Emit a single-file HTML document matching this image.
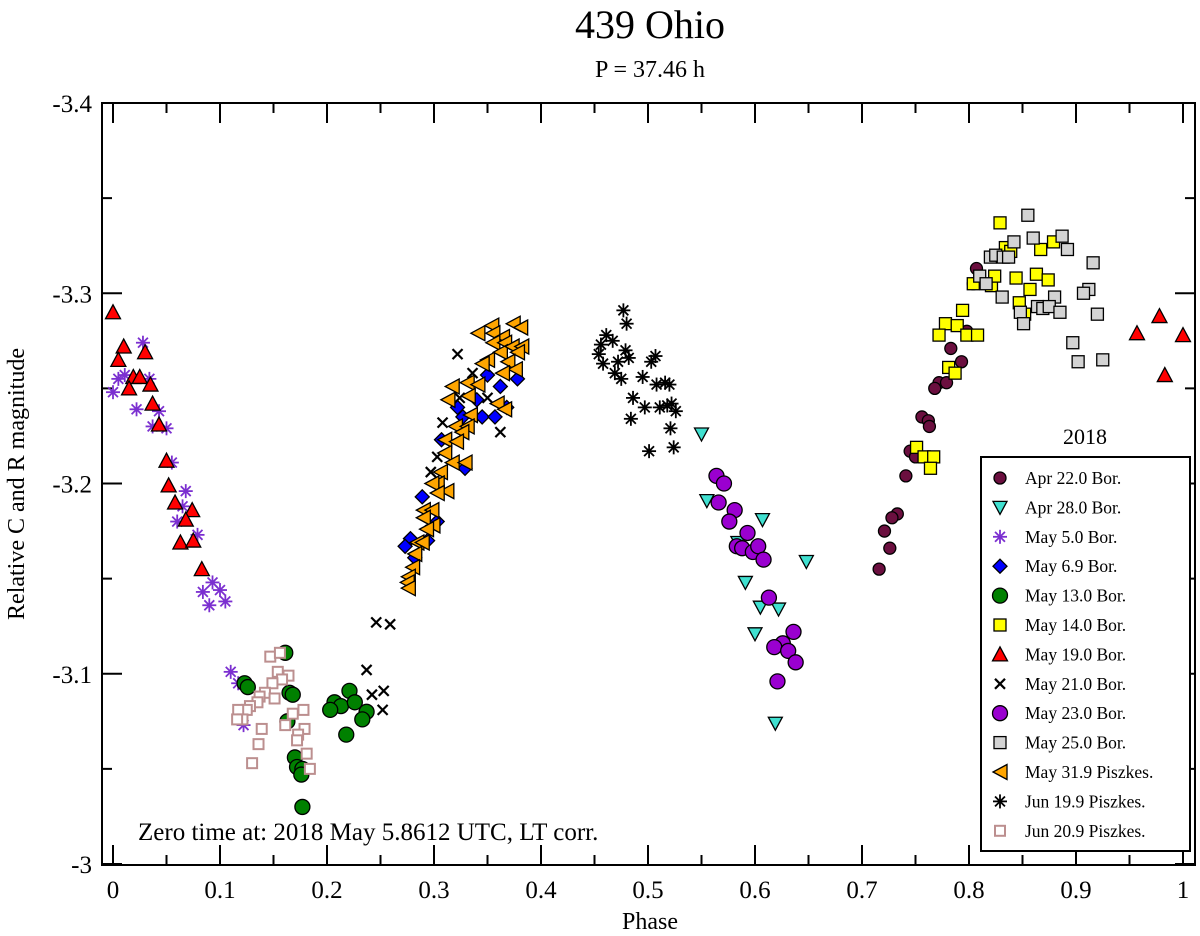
<!DOCTYPE html>
<html><head><meta charset="utf-8"><style>
body{margin:0;background:#fff}
svg{display:block;font-family:"Liberation Serif",serif}
</style></head><body>
<svg id="chart" width="1200" height="936" viewBox="0 0 1200 936" xmlns="http://www.w3.org/2000/svg">
<text x="650" y="38" font-size="40" text-anchor="middle">439 Ohio</text>
<text x="650" y="77" font-size="24" text-anchor="middle">P = 37.46 h</text>
<text transform="translate(24,484) rotate(-90)" font-size="24" text-anchor="middle">Relative C and R magnitude</text>
<text x="650" y="929" font-size="24" text-anchor="middle">Phase</text>
<text x="138" y="840" font-size="25">Zero time at: 2018 May 5.8612 UTC, LT corr.</text>
<g id="axes"></g>
<g id="marks"></g>
<g id="legend"></g>
</svg>
<script>
const xTicks=[0,0.1,0.2,0.3,0.4,0.5,0.6,0.7,0.8,0.9,1];
const xTickLabels=["0","0.1","0.2","0.3","0.4","0.5","0.6","0.7","0.8","0.9","1"];
const yTicks=[-3.4,-3.3,-3.2,-3.1,-3];
const yTickLabels=["-3.4","-3.3","-3.2","-3.1","-3"];
const seriesNames=["Apr 22.0 Bor.","Apr 28.0 Bor.","May 5.0 Bor.","May 6.9 Bor.","May 13.0 Bor.","May 14.0 Bor.","May 19.0 Bor.","May 21.0 Bor.","May 23.0 Bor.","May 25.0 Bor.","May 31.9 Piszkes.","Jun 19.9 Piszkes.","Jun 20.9 Piszkes."];
const apr22=[[.807,-3.313],[.804,-3.305],[.798,-3.280],[.783,-3.271],[.793,-3.264],[.772,-3.253],[.779,-3.253],[.768,-3.250],[.756,-3.235],[.762,-3.233],[.763,-3.230],[.745,-3.217],[.750,-3.214],[.741,-3.204],[.733,-3.184],[.728,-3.182],[.721,-3.175],[.726,-3.166],[.716,-3.155]];
const apr28=[[.550,-3.226],[.555,-3.191],[.607,-3.181],[.584,-3.169],[.648,-3.159],[.591,-3.148],[.605,-3.135],[.622,-3.134],[.600,-3.121],[.619,-3.074]];
const may05=[[.028,-3.274],[.005,-3.255],[.011,-3.257],[0,-3.248],[.034,-3.255],[.022,-3.239],[.043,-3.238],[.037,-3.230],[.050,-3.229],[.055,-3.211],[.068,-3.196],[.065,-3.188],[.060,-3.180],[.079,-3.173],[.084,-3.143],[.093,-3.148],[.100,-3.144],[.105,-3.138],[.090,-3.136],[.110,-3.101],[.117,-3.095],[.122,-3.073]];
const may069=[[.350,-3.257],[.362,-3.251],[.340,-3.244],[.322,-3.240],[.327,-3.235],[.345,-3.235],[.357,-3.235],[.368,-3.240],[.378,-3.255],[.307,-3.223],[.329,-3.208],[.289,-3.193],[.303,-3.180],[.278,-3.171],[.273,-3.167],[.294,-3.170],[.282,-3.161]];
const may13=[[.161,-3.111],[.123,-3.095],[.126,-3.093],[.165,-3.090],[.168,-3.089],[.163,-3.075],[.170,-3.056],[.172,-3.051],[.177,-3.050],[.176,-3.047],[.177,-3.030],[.221,-3.091],[.207,-3.085],[.213,-3.083],[.203,-3.081],[.226,-3.085],[.237,-3.080],[.233,-3.076],[.218,-3.068]];
const may14=[[.829,-3.337],[.834,-3.324],[.839,-3.322],[.867,-3.323],[.879,-3.327],[.804,-3.305],[.821,-3.304],[.824,-3.309],[.844,-3.308],[.863,-3.310],[.874,-3.307],[.857,-3.302],[.847,-3.295],[.852,-3.289],[.794,-3.291],[.778,-3.284],[.789,-3.283],[.772,-3.278],[.798,-3.278],[.808,-3.278],[.781,-3.261],[.787,-3.258],[.751,-3.219],[.758,-3.214],[.767,-3.214],[.764,-3.208]];
const may19=[[0,-3.290],[.010,-3.272],[.005,-3.265],[.030,-3.269],[.019,-3.256],[.025,-3.256],[.035,-3.252],[.015,-3.250],[.037,-3.242],[.043,-3.231],[.050,-3.212],[.052,-3.199],[.058,-3.190],[.074,-3.186],[.068,-3.181],[.063,-3.169],[.075,-3.170],[.083,-3.155],[.957,-3.279],[.978,-3.288],[.983,-3.257],[1.0,-3.278]];
const may21=[[.246,-3.127],[.259,-3.126],[.237,-3.102],[.242,-3.089],[.253,-3.091],[.252,-3.081],[.322,-3.268],[.362,-3.227],[.308,-3.232],[.303,-3.214],[.336,-3.258],[.297,-3.206],[.324,-3.245],[.350,-3.245]];
const may23=[[.564,-3.204],[.571,-3.200],[.566,-3.190],[.581,-3.186],[.576,-3.180],[.593,-3.174],[.583,-3.167],[.588,-3.166],[.598,-3.164],[.603,-3.167],[.608,-3.160],[.613,-3.140],[.636,-3.122],[.626,-3.116],[.618,-3.114],[.631,-3.112],[.638,-3.106],[.621,-3.096]];
const may25=[[.855,-3.341],[.842,-3.327],[.860,-3.329],[.887,-3.330],[.892,-3.323],[.820,-3.319],[.825,-3.320],[.832,-3.319],[.837,-3.319],[.810,-3.309],[.816,-3.305],[.916,-3.316],[.912,-3.302],[.907,-3.300],[.831,-3.298],[.880,-3.298],[.864,-3.293],[.869,-3.292],[.875,-3.293],[.885,-3.290],[.848,-3.290],[.851,-3.284],[.920,-3.289],[.897,-3.274],[.902,-3.264],[.925,-3.265]];
const may319=[[.341,-3.279],[.354,-3.283],[.355,-3.279],[.374,-3.284],[.381,-3.282],[.364,-3.277],[.355,-3.274],[.366,-3.274],[.362,-3.269],[.373,-3.272],[.382,-3.272],[.378,-3.269],[.350,-3.265],[.345,-3.263],[.369,-3.264],[.376,-3.260],[.364,-3.258],[.331,-3.253],[.317,-3.251],[.341,-3.252],[.332,-3.246],[.313,-3.244],[.359,-3.242],[.366,-3.239],[.334,-3.236],[.320,-3.230],[.331,-3.230],[.326,-3.227],[.310,-3.223],[.321,-3.222],[.310,-3.216],[.317,-3.211],[.329,-3.211],[.306,-3.206],[.303,-3.200],[.298,-3.200],[.312,-3.196],[.303,-3.195],[.290,-3.186],[.298,-3.186],[.299,-3.178],[.290,-3.182],[.293,-3.176],[.284,-3.169],[.289,-3.169],[.282,-3.163],[.280,-3.156],[.276,-3.151],[.275,-3.148],[.276,-3.145]];
const jun199=[[.477,-3.291],[.480,-3.284],[.461,-3.278],[.467,-3.275],[.456,-3.273],[.454,-3.268],[.458,-3.263],[.479,-3.270],[.482,-3.266],[.472,-3.264],[.469,-3.258],[.475,-3.255],[.507,-3.267],[.503,-3.264],[.495,-3.256],[.508,-3.252],[.516,-3.253],[.520,-3.252],[.486,-3.245],[.497,-3.240],[.511,-3.240],[.518,-3.241],[.522,-3.242],[.526,-3.238],[.484,-3.234],[.521,-3.229],[.524,-3.219],[.501,-3.217]];
const jun209=[[.147,-3.109],[.156,-3.111],[.154,-3.101],[.164,-3.099],[.158,-3.097],[.149,-3.095],[.142,-3.090],[.137,-3.088],[.151,-3.087],[.135,-3.085],[.128,-3.083],[.125,-3.081],[.117,-3.081],[.121,-3.076],[.116,-3.076],[.168,-3.079],[.178,-3.081],[.139,-3.071],[.161,-3.073],[.179,-3.071],[.173,-3.068],[.172,-3.065],[.136,-3.063],[.181,-3.058],[.130,-3.053],[.184,-3.050]];

const NS="http://www.w3.org/2000/svg";
const X0=113,X1=1183,Y0=103,Y1=864,L=102,R=1195,T=103,B=865;
function xs(p){return X0+(X1-X0)*p;}
function ys(m){return Y0+(m+3.4)/0.4*(Y1-Y0);}
function mk(tag,attrs,parent){const e=document.createElementNS(NS,tag);for(const k in attrs)e.setAttribute(k,attrs[k]);parent.appendChild(e);return e;}
const axes=document.getElementById('axes');
const frame=mk('rect',{x:L,y:T,width:R-L,height:B-T,fill:'none',stroke:'#000','stroke-width':2},axes);


for(let i=0;i<=20;i++){const p=i*0.05,x=xs(p),len=i%2?10:20;
 mk('line',{x1:x,x2:x,y1:B,y2:B-len,stroke:'#000','stroke-width':2},axes);
 mk('line',{x1:x,x2:x,y1:T,y2:T+len,stroke:'#000','stroke-width':2},axes);}
for(let i=0;i<=8;i++){const m=-3.4+i*0.05,y=ys(m),len=i%2?10:20;
 mk('line',{x1:L,x2:L+len,y1:y,y2:y,stroke:'#000','stroke-width':2},axes);
 mk('line',{x1:R,x2:R-len,y1:y,y2:y,stroke:'#000','stroke-width':2},axes);}
xTicks.forEach((v,i)=>{const t=mk('text',{x:xs(v),y:898,'font-size':25,'text-anchor':'middle'},axes);t.textContent=xTickLabels[i];
 
 });
yTicks.forEach((v,i)=>{const t=mk('text',{x:92,y:ys(v)+9,'font-size':25,'text-anchor':'end'},axes);t.textContent=yTickLabels[i];
 
 });

function marker(type,x,y,parent){
 const s={stroke:'#000','stroke-width':1.3};
 switch(type){
  case 'circMaroon':return mk('circle',{cx:x,cy:y,r:6,fill:'#6b0f3f',...s},parent);
  case 'circGreen':return mk('circle',{cx:x,cy:y,r:7.5,fill:'#008000',...s},parent);
  case 'circPurple':return mk('circle',{cx:x,cy:y,r:7.5,fill:'#9a00d0',...s},parent);
  case 'triDown':return mk('polygon',{points:`${x-7},${y-6} ${x+7},${y-6} ${x},${y+7}`,fill:'#40e0d0',...s},parent);
  case 'triUp':return mk('polygon',{points:`${x-7.5},${y+6.5} ${x+7.5},${y+6.5} ${x},${y-7.5}`,fill:'#ff0000',...s},parent);
  case 'triLeft':return mk('polygon',{points:`${x+7},${y-7.5} ${x+7},${y+7.5} ${x-7},${y}`,fill:'#ffa500',...s},parent);
  case 'diamond':return mk('polygon',{points:`${x},${y-7} ${x+7},${y} ${x},${y+7} ${x-7},${y}`,fill:'#0000ff',...s},parent);
  case 'sqYellow':return mk('rect',{x:x-6,y:y-6,width:12,height:12,fill:'#ffff00',...s},parent);
  case 'sqGray':return mk('rect',{x:x-6,y:y-6,width:12,height:12,fill:'#d3d3d3',...s},parent);
  case 'sqPink':return mk('rect',{x:x-5,y:y-5,width:10,height:10,fill:'#fff',stroke:'#bc8f8f','stroke-width':2},parent);
  case 'cross':{const g=mk('g',{stroke:'#000','stroke-width':2.2},parent);mk('line',{x1:x-5,y1:y-5,x2:x+5,y2:y+5},g);mk('line',{x1:x-5,y1:y+5,x2:x+5,y2:y-5},g);return g;}
  case 'starPurple':case 'starBlack':{const c=type==='starPurple'?'#7b2fd0':'#000';const g=mk('g',{stroke:c,'stroke-width':1.8},parent);
   for(let k=0;k<4;k++){const a=k*Math.PI/4;mk('line',{x1:x-7*Math.cos(a),y1:y-7*Math.sin(a),x2:x+7*Math.cos(a),y2:y+7*Math.sin(a)},g);}return g;}
 }}
const series=[[apr22,'circMaroon'],[apr28,'triDown'],[may05,'starPurple'],[may069,'diamond'],[may13,'circGreen'],[may14,'sqYellow'],[may19,'triUp'],[may21,'cross'],[may23,'circPurple'],[may25,'sqGray'],[may319,'triLeft'],[jun199,'starBlack'],[jun209,'sqPink']];
const drawOrder=[0,1,2,3,4,5,6,7,8,9,10,11,12];
const marks=document.getElementById('marks');
drawOrder.forEach(i=>{const [data,type]=series[i];const g=mk('g',{},marks);
 
 
 data.forEach(d=>{const el=marker(type,xs(d[0]),ys(d[1]),g);
  
  });});
const leg=document.getElementById('legend');
const lt=mk('text',{x:1085,y:444,'font-size':22,'text-anchor':'middle'},leg);lt.textContent='2018';


const lb=mk('rect',{x:981,y:457,width:209,height:394,fill:'#fff',stroke:'#000','stroke-width':2},leg);


seriesNames.forEach((n,i)=>{const y=478+i*29.4;const g=mk('g',{},leg);
 
 
 marker(series[i][1],1000,y,g);
 const t=mk('text',{x:1025,y:y+6,'font-size':17.5},g);t.textContent=n;});
</script>
</body></html>
